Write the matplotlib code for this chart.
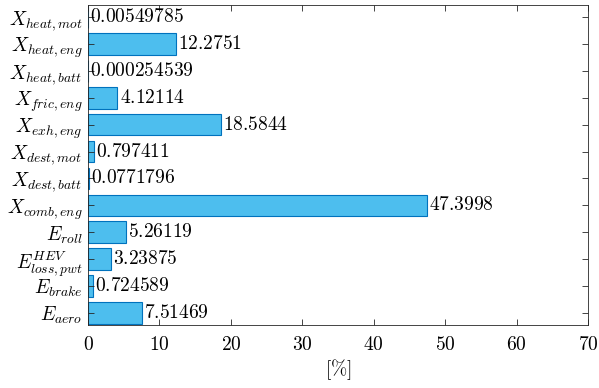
import numpy as np
import matplotlib.pyplot as plt

plt.rcParams['mathtext.fontset'] = 'cm'
plt.rcParams['font.family'] = 'serif'
plt.rcParams['font.serif'] = ['cmr10']
plt.rcParams['axes.formatter.use_mathtext'] = True

# exergy / energy breakdown [%], listed bottom to top
etichette = [r'$E_{aero}$', r'$E_{brake}$', r'$E_{loss,pwt}^{HEV}$', r'$E_{roll}$',
             r'$X_{comb,eng}$', r'$X_{dest,batt}$', r'$X_{dest,mot}$', r'$X_{exh,eng}$',
             r'$X_{fric,eng}$', r'$X_{heat,batt}$', r'$X_{heat,eng}$', r'$X_{heat,mot}$']
valori = [7.51469, 0.724589, 3.23875, 5.26119,
          47.3998, 0.0771796, 0.797411, 18.5844,
          4.12114, 0.000254539, 12.2751, 0.00549785]
testi = ['7.51469', '0.724589', '3.23875', '5.26119',
         '47.3998', '0.0771796', '0.797411', '18.5844',
         '4.12114', '0.000254539', '12.2751', '0.00549785']

fs = 14

fig = plt.figure(figsize=(5.99, 3.88), dpi=100)
ax = fig.add_axes([88 / 599, 1 - 325 / 388, 500 / 599, 320 / 388])

pos = np.arange(1, len(valori) + 1)
ax.barh(pos, valori, height=0.8, color='#4DBEEE', edgecolor='#0072BD', linewidth=0.8)

for p, v, t in zip(pos, valori, testi):
    ax.annotate('$' + t + '$', (v, p), xytext=(1.5, 0), textcoords='offset points',
                ha='left', va='center', fontsize=fs)

ax.set_xlim(0, 70)
ax.set_ylim(0.55, 12.45)
ax.set_xticks(np.arange(0, 71, 10))
ax.set_xticklabels(['$%d$' % t for t in range(0, 71, 10)])
ax.set_yticks(pos)
ax.set_yticklabels(etichette)
ax.tick_params(direction='in', top=True, right=True, labelsize=fs, length=4,
               color='#262626', width=0.6)
ax.tick_params(axis='x', pad=8)
ax.tick_params(axis='y', pad=4)
for s in ax.spines.values():
    s.set_color('#262626')
    s.set_linewidth(0.6)
ax.set_xlabel(r'$[\%]$', fontsize=fs, labelpad=2)

fig.savefig('out.png', dpi=100)
